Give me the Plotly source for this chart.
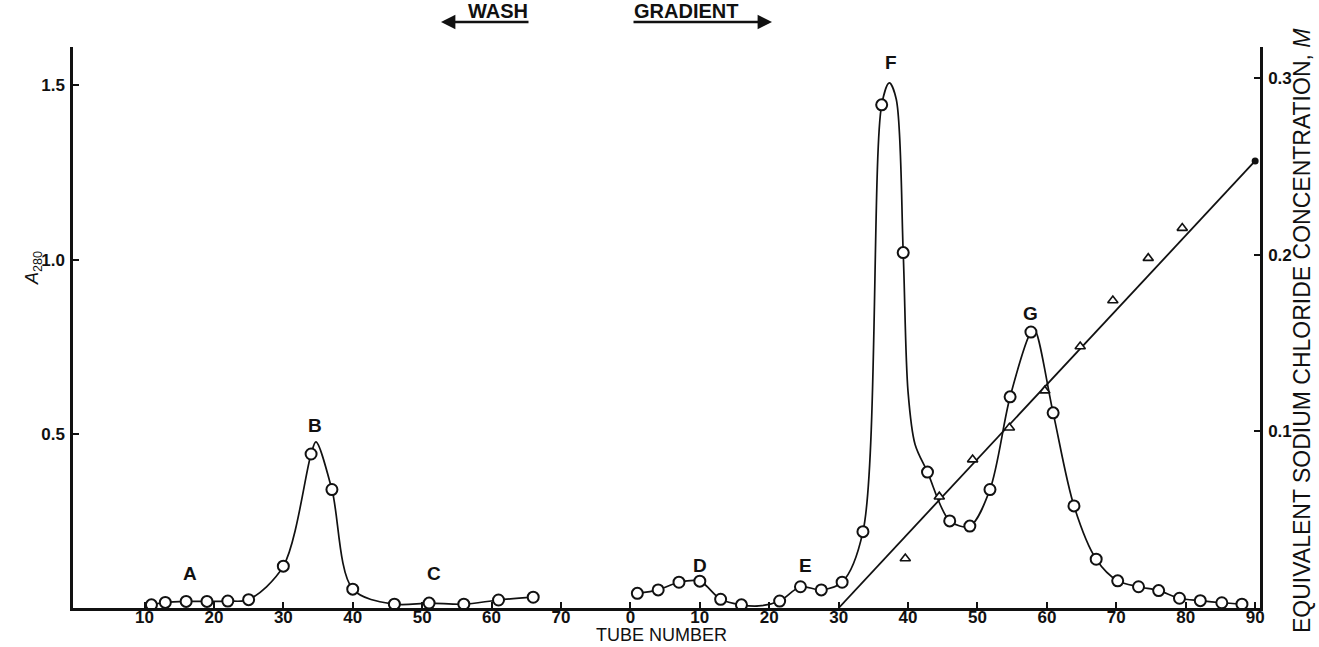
import plotly.graph_objects as go

# ---------------- data ----------------
# Wash phase: tube numbers and A280
wash_tubes = [11, 13, 16, 19, 22, 25, 30, 34, 37, 40, 46, 51, 56, 61, 66]
wash_a280 = [0.009, 0.016, 0.019, 0.019, 0.020, 0.024, 0.120, 0.442, 0.340,
             0.054, 0.011, 0.014, 0.011, 0.023, 0.031]
# extra points on the hand-drawn curve (peak apex)
wash_curve_extra_tubes = [34.7]
wash_curve_extra_a280 = [0.477]

# Gradient phase: tube numbers and A280
grad_tubes = [1, 4, 7, 10, 13, 16, 21.5, 24.5, 27.5, 30.5, 33.5, 36.2, 39.3,
              42.8, 46, 48.9, 51.8, 54.7, 57.7, 60.9, 63.9, 67.1, 70.2, 73.2,
              76.1, 79.1, 82.1, 85.2, 88.1]
grad_a280 = [0.042, 0.052, 0.074, 0.077, 0.025, 0.009, 0.020, 0.061, 0.052,
             0.074, 0.219, 1.444, 1.020, 0.390, 0.250, 0.235, 0.340, 0.606,
             0.792, 0.560, 0.293, 0.140, 0.078, 0.061, 0.050, 0.028, 0.021,
             0.015, 0.011]
grad_curve_extra_tubes = [18.5, 37.3, 38.3, 40.0, 41.0, 58.2]
grad_curve_extra_a280 = [0.006, 1.507, 1.460, 0.620, 0.470, 0.800]

# NaCl concentration (M): measured triangles and the linear gradient
nacl_tubes = [39.6, 44.5, 49.3, 54.6, 59.7, 64.8, 69.5, 74.6, 79.5]
nacl_conc = [0.028, 0.063, 0.084, 0.102, 0.123, 0.148, 0.174, 0.198, 0.215]
gradient_line_tubes = [30, 90]
gradient_line_conc = [0.0, 0.253]

# axis ticks
wash_tick_vals = [10, 20, 30, 40, 50, 60, 70]
grad_tick_vals = [0, 10, 20, 30, 40, 50, 60, 70, 80, 90]
GRAD_OFFSET = 80  # gradient tube 0 sits one tick-step after wash tube 70

left_tick_vals = [0.5, 1.0, 1.5]
right_tick_vals = [0.1, 0.2, 0.3]

peak_labels = ["A", "B", "C", "D", "E", "F", "G"]

# ---------------- build ----------------
FONT = "Liberation Sans"
BLACK = "#111111"

def g(t):
    return t + GRAD_OFFSET

def merged(xs, ys, ex, ey):
    pts = sorted(list(zip(xs, ys)) + list(zip(ex, ey)))
    return [p[0] for p in pts], [p[1] for p in pts]

wx, wy = merged(wash_tubes, wash_a280, wash_curve_extra_tubes, wash_curve_extra_a280)
gx, gy = merged(grad_tubes, grad_a280, grad_curve_extra_tubes, grad_curve_extra_a280)

fig = go.Figure()

line_style = dict(color=BLACK, width=1.7, shape="spline", smoothing=0.9)
circ = dict(symbol="circle", size=11, color="white", line=dict(width=2, color=BLACK))

fig.add_trace(go.Scatter(x=wx, y=wy, mode="lines", line=line_style, hoverinfo="skip"))
fig.add_trace(go.Scatter(x=[g(t) for t in gx], y=gy, mode="lines", line=line_style, hoverinfo="skip"))

fig.add_trace(go.Scatter(x=wash_tubes, y=wash_a280, mode="markers", marker=circ))
fig.add_trace(go.Scatter(x=[g(t) for t in grad_tubes], y=grad_a280, mode="markers", marker=circ))

# NaCl line and triangles on right axis
fig.add_trace(go.Scatter(x=[g(t) for t in gradient_line_tubes], y=gradient_line_conc,
                         mode="lines", line=dict(color=BLACK, width=1.8), yaxis="y2"))
fig.add_trace(go.Scatter(x=[g(gradient_line_tubes[-1])], y=[gradient_line_conc[-1]],
                         mode="markers", marker=dict(symbol="circle", size=7, color=BLACK),
                         yaxis="y2", cliponaxis=False))
fig.add_trace(go.Scatter(x=[g(t) for t in nacl_tubes], y=nacl_conc, mode="markers",
                         marker=dict(symbol="triangle-up", size=9, color="white",
                                     line=dict(width=1.6, color=BLACK)),
                         yaxis="y2"))

tickvals = list(wash_tick_vals) + [g(t) for t in grad_tick_vals]
ticktext = [str(t) for t in wash_tick_vals] + [str(t) for t in grad_tick_vals]

axis_font = dict(family=FONT, size=17, color=BLACK)

fig.update_layout(
    width=1319, height=647,
    margin=dict(l=73, r=59, t=47, b=39),
    paper_bgcolor="white", plot_bgcolor="white",
    showlegend=False,
    xaxis=dict(range=[-0.3, 170.7], tickmode="array", tickvals=tickvals,
               ticktext=["<b>%s</b>" % t for t in ticktext],
               ticks="inside", ticklen=6, tickwidth=2, tickcolor=BLACK,
               showline=True, linewidth=3, linecolor=BLACK, showgrid=False,
               zeroline=False, tickfont=axis_font, ticklabelstandoff=-8),
    yaxis=dict(range=[0, 1.61], tickmode="array", tickvals=left_tick_vals,
               ticktext=["<b>%.1f</b>" % v for v in left_tick_vals],
               ticks="inside", ticklen=6, tickwidth=2, tickcolor=BLACK,
               showline=True, linewidth=2.5, linecolor=BLACK, showgrid=False,
               zeroline=False, tickfont=axis_font, ticklabelstandoff=2),
    yaxis2=dict(range=[0, 0.3175], overlaying="y", side="right", tickmode="array",
                tickvals=right_tick_vals,
                ticktext=["<b>%.1f</b>" % v for v in right_tick_vals],
                ticks="inside", ticklen=6, tickwidth=2, tickcolor=BLACK,
                showline=True, linewidth=2.5, linecolor=BLACK, showgrid=False,
                zeroline=False, tickfont=axis_font, ticklabelstandoff=2),
)

PL, PR, PT, PB = 73, 1260, 47, 608
def px(xp):
    return (xp - PL) / (PR - PL)
def py(yp):
    return (PB - yp) / (PB - PT)

C = dict(xanchor="center", yanchor="middle", showarrow=False)

ann = []
label_pos = {
    "A": (16.5, 0.098), "B": (34.5, 0.525), "C": (51.7, 0.10),
    "D": (g(10), 0.123), "E": (g(25.2), 0.123), "F": (g(37.5), 1.566),
    "G": (g(57.7), 0.846),
}
for lab in peak_labels:
    x, y = label_pos[lab]
    ann.append(dict(x=x, y=y, xref="x", yref="y", text="<b>%s</b>" % lab,
                    font=dict(family=FONT, size=19, color=BLACK), **C))

# axis titles
ann.append(dict(x=px(661), y=py(635), xref="paper", yref="paper", text="TUBE NUMBER",
                font=dict(family=FONT, size=18, color=BLACK), **C))
ann.append(dict(x=px(33), y=py(268), xref="paper", yref="paper",
                text="<i>A</i><sub>280</sub>", textangle=-90,
                font=dict(family=FONT, size=18, color=BLACK), **C))
ann.append(dict(x=px(1302), y=py(331), xref="paper", yref="paper",
                text="EQUIVALENT SODIUM CHLORIDE CONCENTRATION, <i>M</i>", textangle=-90,
                font=dict(family=FONT, size=23, color=BLACK), **C))

# WASH / GRADIENT headers with arrows
ann.append(dict(x=px(498), y=py(11), xref="paper", yref="paper", text="<b>WASH</b>",
                font=dict(family=FONT, size=20, color=BLACK), **C))
ann.append(dict(x=px(686), y=py(11), xref="paper", yref="paper", text="<b>GRADIENT</b>",
                font=dict(family=FONT, size=20, color=BLACK), **C))
ann.append(dict(x=px(441), y=py(22), xref="paper", yref="paper", text="",
                showarrow=True, arrowhead=2, arrowsize=1.2, arrowwidth=2.4, arrowcolor=BLACK,
                ax=89, ay=0))
ann.append(dict(x=px(772), y=py(22), xref="paper", yref="paper", text="",
                showarrow=True, arrowhead=2, arrowsize=1.2, arrowwidth=2.4, arrowcolor=BLACK,
                ax=-140, ay=0))

fig.update_layout(annotations=ann)

fig.write_html("out.html")
